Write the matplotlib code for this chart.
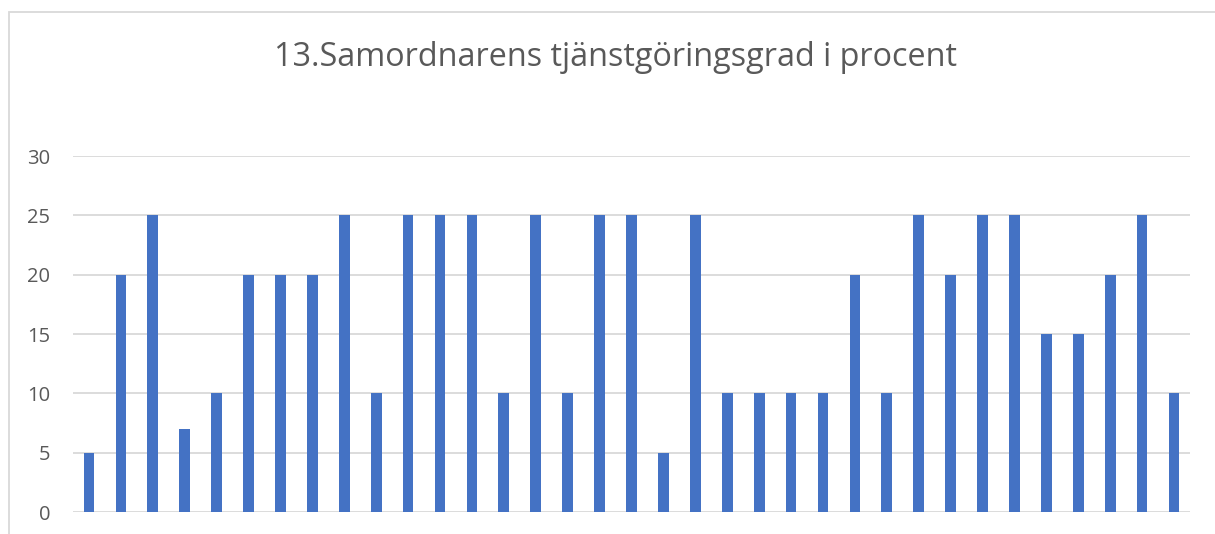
import matplotlib
matplotlib.use("Agg")
import matplotlib.pyplot as plt
from matplotlib.patches import Rectangle

values = [5, 20, 25, 7, 10, 20, 20, 20, 25, 10, 25, 25, 25, 10, 25, 10, 25, 25,
          5, 25, 10, 10, 10, 10, 20, 10, 25, 20, 25, 25, 15, 15, 20, 25, 10]
categories = list(range(1, len(values) + 1))
yticks = [0, 5, 10, 15, 20, 25, 30]
title = "13.Samordnarens tjänstgöringsgrad i procent"

W, H = 1215, 534
fig = plt.figure(figsize=(W / 100, H / 100), dpi=100)
plt.rcParams['font.family'] = ['Open Sans', 'DejaVu Sans']

# outer chart border (top and left visible)
fig.patches.append(Rectangle((8.5 / W, -0.1), 1.2, (H - 11.5) / H + 0.1,
                             transform=fig.transFigure, fill=False,
                             edgecolor='#d9d9d9', linewidth=1.3))

ax = fig.add_axes([73 / W, (H - 512) / H, (1190 - 73) / W, (512 - 156) / H])
ax.bar([c - 0.5 for c in categories], values, width=0.335, color='#4472c4',
       zorder=3, align='center')
ax.set_xlim(0, len(values))
ax.set_ylim(0, 30)
ax.set_yticks(yticks)
ax.set_yticklabels([str(t) for t in yticks], color='#595959', fontsize=14.5)
ax.set_xticks([])
ax.grid(axis='y', color='#d9d9d9', linewidth=1.3, zorder=0)
for s in ax.spines.values():
    s.set_visible(False)
ax.tick_params(axis='y', length=0, pad=16.5)

fig.text(615 / W, (H - 57) / H, title, ha='center', va='center',
         fontsize=23.3, color='#595959')

fig.savefig("out.png", dpi=100)
